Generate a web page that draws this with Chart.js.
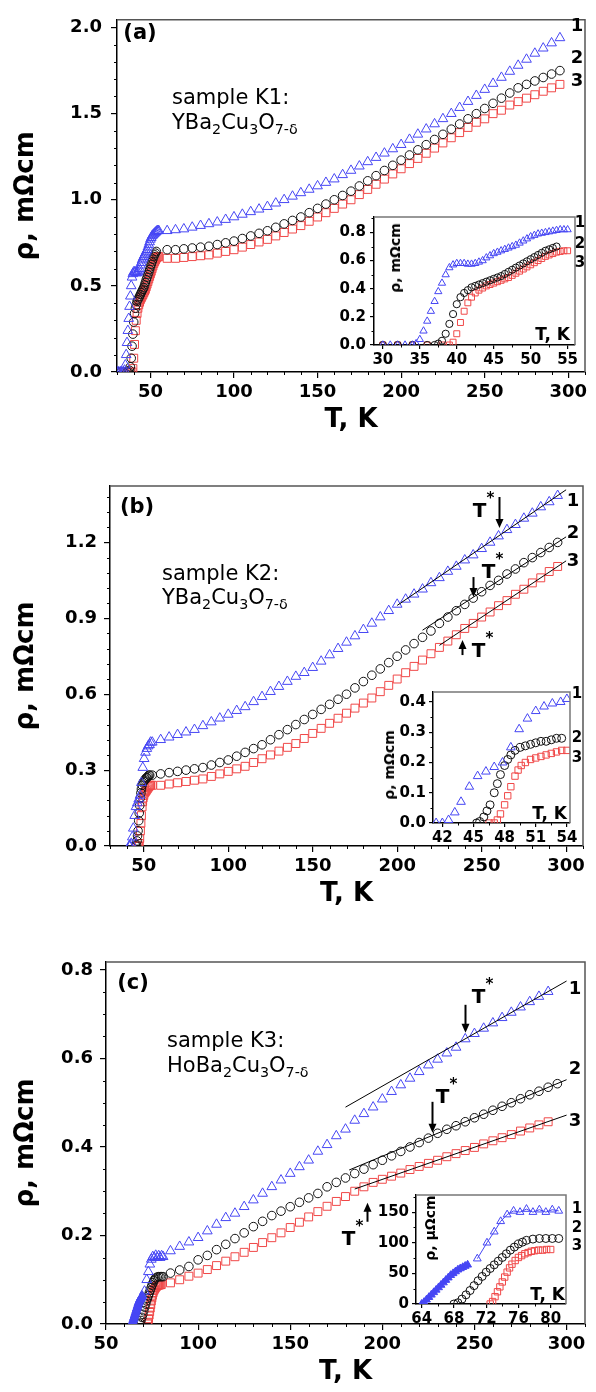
<!DOCTYPE html>
<html>
<head>
<meta charset="utf-8">
<title>Resistivity vs temperature, samples K1-K3</title>
<script src="https://cdn.jsdelivr.net/npm/chart.js@4.4.0/dist/chart.umd.min.js"></script>
<style>
  html, body { margin: 0; padding: 0; background: #fff; }
  #stage { position: relative; width: 596px; height: 1392px; overflow: hidden;
           font-family: "DejaVu Sans", "Liberation Sans", sans-serif; color: #000; }
  #stage canvas { position: absolute; z-index: 1; }
  .t { position: absolute; white-space: nowrap; line-height: 1; z-index: 5; }
  .c { transform: translate(-50%, -50%); }
  .l { transform: translateY(-50%); }
  .r { transform: translate(-100%, -50%); }
  .v { transform: translate(-50%, -50%) rotate(-90deg); }
  .b { font-weight: bold; }
  .n { font-size: 18px; font-weight: bold; }
  .m { font-size: 15px; font-weight: bold; }
  .s { font-size: 21px; }
  .sub { font-size: 68%; position: relative; top: 0.38em; }
</style>
</head>
<body>
<div id="stage">
  <!-- (a) -->
  <div class="t c b" style="left:140px;top:32px;font-size:21px">(a)</div>
  <div class="t l s" style="left:172px;top:97px">sample K1:</div>
  <div class="t l s" style="left:172px;top:122px">YBa<span class="sub">2</span>Cu<span class="sub">3</span>O<span class="sub">7-δ</span></div>
  <div class="t c n" style="left:577px;top:25px">1</div>
  <div class="t c n" style="left:577px;top:57px">2</div>
  <div class="t c n" style="left:577px;top:80px">3</div>
  <div class="t v b" style="left:395px;top:258px;font-size:14px">ρ, mΩcm</div>
  <div class="t r b" style="left:570px;top:334px;font-size:17px">T, K</div>
  <div class="t c m" style="left:580px;top:222px">1</div>
  <div class="t c m" style="left:580px;top:243px">2</div>
  <div class="t c m" style="left:580px;top:262px">3</div>

  <!-- (b) -->
  <div class="t c b" style="left:137px;top:506px;font-size:21px">(b)</div>
  <div class="t l s" style="left:162px;top:573px">sample K2:</div>
  <div class="t l s" style="left:162px;top:597px">YBa<span class="sub">2</span>Cu<span class="sub">3</span>O<span class="sub">7-δ</span></div>
  <div class="t c n" style="left:573px;top:500px">1</div>
  <div class="t c n" style="left:573px;top:532px">2</div>
  <div class="t c n" style="left:573px;top:560px">3</div>
  <div class="t v b" style="left:389px;top:765px;font-size:14px">ρ, mΩcm</div>
  <div class="t r b" style="left:567px;top:813px;font-size:17px">T, K</div>
  <div class="t c m" style="left:577px;top:693px">1</div>
  <div class="t c m" style="left:577px;top:737px">2</div>
  <div class="t c m" style="left:577px;top:757px">3</div>

  <!-- (c) -->
  <div class="t c b" style="left:133px;top:982px;font-size:21px">(c)</div>
  <div class="t l s" style="left:167px;top:1040px">sample K3:</div>
  <div class="t l s" style="left:167px;top:1065px">HoBa<span class="sub">2</span>Cu<span class="sub">3</span>O<span class="sub">7-δ</span></div>
  <div class="t c n" style="left:575px;top:988px">1</div>
  <div class="t c n" style="left:575px;top:1068px">2</div>
  <div class="t c n" style="left:575px;top:1120px">3</div>
  <div class="t v b" style="left:430px;top:1228px;font-size:14px">ρ, μΩcm</div>
  <div class="t r b" style="left:565px;top:1294px;font-size:17px">T, K</div>
  <div class="t c m" style="left:577px;top:1208px">1</div>
  <div class="t c m" style="left:577px;top:1227px">2</div>
  <div class="t c m" style="left:577px;top:1245px">3</div>
</div>

<script>
// ---------- sample K1 (a) ----------
const tA = [60,65,70,75,80,85,90,95,100,105,110,115,120,125,130,135,140,145,150,155,160,165,170,175,
            180,185,190,195,200,205,210,215,220,225,230,235,240,245,250,255,260,265,270,275,280,285,290,295];
const rhoA1 = [.82,.825,.83,.84,.85,.86,.87,.885,.90,.915,.93,.945,.96,.98,1.00,1.02,1.04,1.06,1.08,1.10,1.12,1.145,1.17,1.195,
               1.22,1.245,1.27,1.295,1.32,1.35,1.38,1.41,1.44,1.47,1.50,1.535,1.57,1.605,1.64,1.675,1.71,1.745,1.78,1.815,1.85,1.88,1.91,1.94];
const rhoA2 = [.71,.71,.715,.72,.725,.73,.74,.75,.76,.775,.79,.805,.82,.84,.86,.88,.90,.925,.95,.975,1.00,1.025,1.05,1.08,
               1.11,1.14,1.17,1.20,1.23,1.26,1.29,1.32,1.35,1.38,1.41,1.44,1.47,1.50,1.53,1.56,1.59,1.62,1.65,1.67,1.69,1.71,1.73,1.75];
const rhoA3 = [.66,.66,.665,.67,.675,.68,.69,.70,.71,.725,.74,.755,.77,.79,.81,.83,.85,.875,.90,.925,.95,.975,1.00,1.03,
               1.06,1.09,1.12,1.15,1.18,1.21,1.24,1.27,1.30,1.33,1.36,1.39,1.42,1.45,1.47,1.50,1.52,1.55,1.57,1.59,1.61,1.63,1.65,1.67];
// transition region (inset a), mOhm cm
const tInA1 = [30,31,32,33,34,34.5,35,35.5,36,36.5,37,37.5,38,38.5,39,39.5,40,40.5,41,41.5,42,42.5,43,43.5,44,44.5,
               45,45.5,46,46.5,47,47.5,48,48.5,49,49.5,50,50.5,51,51.5,52,52.5,53,53.5,54,54.5,55];
const rhoInA1 = [0,0,0,0,0,.01,.04,.1,.17,.24,.31,.38,.44,.5,.55,.57,.58,.58,.58,.575,.575,.58,.59,.6,.62,.635,
                 .65,.66,.67,.68,.69,.70,.71,.725,.74,.755,.77,.78,.79,.795,.80,.805,.81,.815,.82,.82,.82];
const tInA2 = [30,32,34,36,37,37.5,38,38.5,39,39.5,40,40.5,41,41.5,42,42.5,43,43.5,44,44.5,45,45.5,46,46.5,47,47.5,
               48,48.5,49,49.5,50,50.5,51,51.5,52,52.5,53,53.5];
const rhoInA2 = [0,0,0,0,0,.01,.03,.08,.15,.22,.29,.34,.37,.39,.41,.42,.43,.44,.45,.46,.47,.48,.49,.505,.52,.535,
                 .55,.565,.58,.595,.61,.625,.64,.655,.67,.68,.69,.70];
const tInA3 = [30,32,34,36,38,39,39.5,40,40.5,41,41.5,42,42.5,43,43.5,44,44.5,45,45.5,46,46.5,47,47.5,48,48.5,49,
               49.5,50,50.5,51,51.5,52,52.5,53,53.5,54,54.5,55];
const rhoInA3 = [0,0,0,0,0,0,.02,.08,.16,.24,.3,.34,.37,.39,.405,.42,.43,.44,.45,.46,.47,.48,.495,.51,.525,.54,
                 .555,.57,.585,.6,.615,.63,.64,.65,.66,.665,.67,.67];

// ---------- sample K2 (b) ----------
const tB = [55,60,65,70,75,80,85,90,95,100,105,110,115,120,125,130,135,140,145,150,155,160,165,170,175,
            180,185,190,195,200,205,210,215,220,225,230,235,240,245,250,255,260,265,270,275,280,285,290,295];
const rhoB1 = [.41,.42,.43,.44,.45,.46,.475,.49,.505,.52,.535,.55,.57,.59,.61,.63,.65,.67,.685,.705,.73,.755,.78,.805,.83,
               .855,.88,.905,.93,.955,.975,.995,1.015,1.04,1.06,1.085,1.105,1.13,1.15,1.175,1.20,1.225,1.25,1.27,1.295,1.315,1.34,1.36,1.385];
const rhoB2 = [.28,.285,.29,.295,.30,.305,.31,.32,.33,.34,.355,.37,.385,.40,.42,.44,.46,.48,.50,.52,.54,.56,.58,.60,.625,
               .65,.675,.70,.725,.75,.775,.80,.825,.85,.88,.905,.93,.955,.98,1.005,1.03,1.05,1.075,1.095,1.12,1.14,1.16,1.18,1.20];
const rhoB3 = [.24,.24,.245,.25,.255,.26,.265,.275,.285,.295,.305,.315,.33,.345,.36,.375,.39,.405,.425,.445,.465,.485,.505,.525,.545,
               .565,.585,.61,.635,.66,.685,.71,.735,.76,.785,.81,.835,.86,.88,.905,.925,.95,.97,.995,1.015,1.04,1.06,1.085,1.105];
const tInB1 = [41.4,42,42.6,43.2,43.8,44.6,45.4,46.2,47,47.8,48.6,49.4,50.2,51,51.8,52.6,53.4,54];
const rhoInB1 = [0,0,.01,.035,.07,.12,.155,.17,.185,.20,.25,.31,.345,.37,.385,.395,.40,.41];
const tInB2 = [45.3,45.6,46,46.3,46.6,47,47.3,47.6,48,48.3,48.6,49,49.5,50,50.5,51,51.5,52,52.5,53,53.5];
const rhoInB2 = [0,.005,.02,.04,.06,.1,.13,.16,.19,.21,.225,.24,.25,.255,.26,.265,.27,.27,.275,.28,.28];
const tInB3 = [46.5,47,47.3,47.6,48,48.3,48.6,49,49.3,49.6,50,50.5,51,51.5,52,52.5,53,53.5,54];
const rhoInB3 = [0,0,.01,.03,.06,.09,.12,.155,.175,.19,.2,.21,.215,.22,.225,.23,.235,.24,.24];
// linear high-temperature fits and T* marks
const fitB1 = [[200, 0.951], [300, 1.408]];
const fitB2 = [[215, 0.853], [300, 1.222]];
const fitB3 = [[225, 0.793], [300, 1.127]];
const tStarB = [260, 245, 238.4];
const tStarRhoB = [1.257, 0.984, 0.814];

// ---------- sample K3 (c) ----------
const tC = [85,90,95,100,105,110,115,120,125,130,135,140,145,150,155,160,165,170,175,180,185,
            190,195,200,205,210,215,220,225,230,235,240,245,250,255,260,265,270,275,280,285,290,295];
const rhoC1 = [.165,.175,.185,.195,.21,.225,.24,.25,.265,.28,.295,.31,.325,.34,.355,.37,.39,.405,.425,.44,.46,
               .475,.49,.508,.525,.54,.555,.57,.585,.598,.612,.625,.644,.656,.668,.68,.692,.704,.716,.728,.74,.751];
const rhoC2 = [.115,.122,.13,.145,.155,.168,.18,.193,.206,.22,.232,.245,.255,.265,.275,.285,.295,.31,.32,.33,.34,
               .35,.36,.37,.38,.39,.40,.41,.42,.431,.44,.448,.457,.466,.474,.483,.492,.50,.509,.518,.526,.535,.543];
const rhoC3 = [.093,.10,.108,.115,.123,.132,.142,.152,.162,.173,.184,.195,.206,.218,.23,.242,.254,.266,.277,.288,.30,
               .31,.32,.327,.334,.341,.349,.356,.363,.37,.378,.385,.392,.399,.407,.414,.421,.428,.436,.443,.45,.457];
// transition region (inset c), microOhm cm; filled symbols below ~70 K
const tInC1f = [64,64.3,64.6,64.9,65.2,65.5,65.8,66.1,66.4,66.7,67,67.3,67.6,67.9,68.2,68.5,68.8,69.1,69.4,69.7];
const rhoInC1f = [0,3,7,11,15,19,23,27,31,35,39,43,47,50,53,56,58,60,62,64];
const tInC1 = [70.9,72.1,73,73.8,74.6,75.4,76.2,77,77.8,78.6,79.4,80.2,81];
const rhoInC1 = [74,100,118,135,146,152,150,155,150,154,150,154,152];
const tInC2 = [68,68.5,69,69.5,70,70.5,71,71.5,72,72.5,73,73.5,74,74.5,75,75.5,76,76.5,77,77.8,78.6,79.4,80.2,81];
const rhoInC2 = [0,2,8,15,22,30,38,45,52,58,64,70,76,82,88,93,98,101,104,106,107,107,107,107];
const tInC3 = [72.5,72.8,73.1,73.4,73.7,74,74.3,74.6,74.9,75.2,75.6,76,76.4,76.8,77.2,77.6,78,78.5,79,79.5,80];
const rhoInC3 = [0,4,12,20,28,36,44,52,59,65,71,76,79,82,84,86,87,88,88,89,89];
const fitC1 = [[180, 0.49], [300, 0.775]];
const fitC2 = [[182, 0.348], [300, 0.552]];
const fitC3 = [[185, 0.305], [300, 0.472]];
const tStarC = [245, 227, 191.7];
const tStarRhoC = [0.658, 0.432, 0.274];

// ---------- drawing ----------
const stage = document.getElementById('stage');
const FONT = '"DejaVu Sans", "Liberation Sans", sans-serif';
const BLUE = '#4646f4', RED = '#f04848', BLACK = '#111111';
const NONE = 'rgba(0,0,0,0)';

function pts(t, r, k) {
  return r.map((v, i) => ({x: t[i], y: v * (k || 1)}));
}
function pairs(p) {
  return p.map(q => ({x: q[0], y: q[1]}));
}

function marks(data, color, style, r, fill) {
  return {
    data, showLine: false,
    pointStyle: style, pointRadius: r, pointHoverRadius: r,
    pointBorderColor: color, pointBackgroundColor: fill || NONE, pointBorderWidth: 1,
    borderColor: color, backgroundColor: fill || NONE
  };
}
function fitLine(p) {
  return {data: pairs(p), showLine: true, pointRadius: 0, borderColor: '#000', borderWidth: 1, order: -1};
}

// plot frame (top/right edges) and optional white plot background for insets
const framePlugin = {
  id: 'frame',
  beforeDraw(chart, args, o) {
    if (!o.fill) return;
    const a = chart.chartArea, ctx = chart.ctx;
    ctx.save();
    ctx.fillStyle = o.fill;
    ctx.fillRect(a.left, a.top, a.right - a.left, a.bottom - a.top);
    ctx.restore();
  },
  afterDraw(chart, args, o) {
    const a = chart.chartArea, ctx = chart.ctx;
    ctx.save();
    ctx.strokeStyle = o.color || '#555';
    ctx.lineWidth = o.width || 1.5;
    ctx.beginPath();
    ctx.moveTo(a.left, a.top);
    ctx.lineTo(a.right, a.top);
    ctx.lineTo(a.right, a.bottom);
    ctx.stroke();
    ctx.restore();
  }
};

// short unlabeled ticks between the major ones
const minorPlugin = {
  id: 'minorTicks',
  afterDraw(chart, args, o) {
    const ctx = chart.ctx;
    ctx.save();
    ctx.strokeStyle = '#000';
    ctx.lineWidth = 1;
    ['x', 'y'].forEach(k => {
      const sc = chart.scales[k], step = o[k];
      if (!step) return;
      const major = sc.options.ticks.stepSize;
      for (let i = Math.ceil(sc.min / step - 1e-9); i * step <= sc.max + 1e-9; i++) {
        const v = i * step, q = v / major;
        if (Math.abs(q - Math.round(q)) < 1e-6) continue;
        const p = Math.round(sc.getPixelForValue(v)) + 0.5;
        ctx.beginPath();
        if (k === 'x') { ctx.moveTo(p, sc.top); ctx.lineTo(p, sc.top + o.len); }
        else { ctx.moveTo(sc.right, p); ctx.lineTo(sc.right - o.len, p); }
        ctx.stroke();
      }
    });
    ctx.restore();
  }
};

// T* arrows with labels
const tStarPlugin = {
  id: 'tStar',
  afterDatasetsDraw(chart, args, o) {
    if (!o.items) return;
    const ctx = chart.ctx, xs = chart.scales.x, ys = chart.scales.y;
    ctx.save();
    ctx.fillStyle = '#000';
    ctx.strokeStyle = '#000';
    ctx.lineWidth = 2;
    o.items.forEach(a => {
      const x = Math.round(xs.getPixelForValue(a.T)) + 0.5;
      const tip = ys.getPixelForValue(a.rho);
      const d = a.up ? -1 : 1;
      const tail = tip - d * a.len;
      ctx.beginPath();
      ctx.moveTo(x, tail);
      ctx.lineTo(x, tip - d * 7);
      ctx.stroke();
      ctx.beginPath();
      ctx.moveTo(x, tip);
      ctx.lineTo(x - 4, tip - d * 9);
      ctx.lineTo(x + 4, tip - d * 9);
      ctx.closePath();
      ctx.fill();
      const lx = x + a.dx, ly = tail + a.dy;
      ctx.textAlign = 'center';
      ctx.textBaseline = 'middle';
      ctx.font = 'bold 20px ' + FONT;
      ctx.fillText('T', lx, ly);
      ctx.font = 'bold 15px ' + FONT;
      ctx.fillText('*', lx + 11, ly - 13);
    });
    ctx.restore();
  }
};

function axis(a, fit) {
  return {
    type: 'linear', min: a.min, max: a.max,
    ticks: {
      stepSize: a.step, includeBounds: false, autoSkip: false, maxRotation: 0, minRotation: 0,
      color: '#000', padding: a.pad, font: {family: FONT, size: a.size, weight: 'bold'},
      callback: v => (a.dec == null ? String(v) : v.toFixed(a.dec))
    },
    grid: {drawOnChartArea: false, drawTicks: true, tickLength: a.tick, color: '#000', lineWidth: 1.2},
    border: {display: true, color: '#000', width: 1.5},
    title: a.title
      ? {display: true, text: a.title, color: '#000', font: {family: FONT, size: 26, weight: 'bold'}, padding: a.tpad}
      : {display: false},
    afterFit: fit
  };
}

function makeChart(box, xa, ya, datasets, opts) {
  const cv = document.createElement('canvas');
  const left = box.l - box.yw, top = box.t - box.pt;
  const w = box.r + box.pr - left, h = box.b + box.xh - top;
  cv.width = w;
  cv.height = h;
  cv.style.left = left + 'px';
  cv.style.top = top + 'px';
  cv.style.width = w + 'px';
  cv.style.height = h + 'px';
  stage.appendChild(cv);
  return new Chart(cv, {
    type: 'scatter',
    data: {datasets},
    options: {
      responsive: false, animation: false, devicePixelRatio: 1,
      layout: {padding: {left: 0, top: box.pt, right: box.pr, bottom: 0}},
      plugins: {
        legend: {display: false}, tooltip: {enabled: false},
        frame: opts.frame, minorTicks: opts.minor, tStar: opts.tStar || {}
      },
      scales: {
        x: axis(xa, s => { s.height = box.xh; }),
        y: axis(ya, s => { s.width = box.yw; })
      }
    },
    plugins: [framePlugin, minorPlugin, tStarPlugin]
  });
}

const mainX = (min, max) => ({min, max, step: 50, size: 18, pad: 4, tick: 6, title: 'T, K', tpad: {top: 0, bottom: 0}});
const mainY = (max, step, pad) => ({min: 0, max, step, size: 18, pad, tick: 6, dec: 1,
                                     title: 'ρ, mΩcm', tpad: {top: 11, bottom: 0}});
const mainFrame = {color: '#555', width: 1.5};
const insetFrame = {color: '#777', width: 1.5, fill: '#fff'};

function arrows(T, rho, len, up, dx, dy) {
  return T.map((t, i) => ({T: t, rho: rho[i], len: len[i], up: up[i], dx: dx[i], dy: dy[i]}));
}

// (a) main
makeChart({l: 117, r: 585, t: 12, b: 372, yw: 117, pt: 12, pr: 11, xh: 64},
  mainX(30, 310), mainY(2.045, 0.5, 9),
  [
    marks(pts(tInA1, rhoInA1).concat(pts(tA, rhoA1)), BLUE, 'triangle', 5.6),
    marks(pts(tInA2, rhoInA2).concat(pts(tA, rhoA2)), BLACK, 'circle', 4.3),
    marks(pts(tInA3, rhoInA3).concat(pts(tA, rhoA3)), RED, 'rect', 5.6)
  ],
  {frame: mainFrame, minor: {x: 10, y: 0.1, len: 3}});

// (a) inset
makeChart({l: 374, r: 575, t: 214, b: 345, yw: 50, pt: 10, pr: 14, xh: 24},
  {min: 28.8, max: 56, step: 5, size: 15, pad: 2, tick: 4},
  {min: 0, max: 0.91, step: 0.2, size: 15, pad: 4, tick: 4, dec: 1},
  [
    marks(pts(tInA1, rhoInA1), BLUE, 'triangle', 4.2),
    marks(pts(tInA2, rhoInA2), BLACK, 'circle', 3.6),
    marks(pts(tInA3, rhoInA3), RED, 'rect', 4.2)
  ],
  {frame: insetFrame, minor: {x: 2.5, y: 0.1, len: 2.5}});

// (b) main
makeChart({l: 110, r: 583, t: 486, b: 846, yw: 110, pt: 20, pr: 13, xh: 64},
  mainX(30, 310), mainY(1.423, 0.3, 7),
  [
    fitLine(fitB1), fitLine(fitB2), fitLine(fitB3),
    marks(pts(tInB1, rhoInB1).concat(pts(tB, rhoB1)), BLUE, 'triangle', 5.6),
    marks(pts(tInB2, rhoInB2).concat(pts(tB, rhoB2)), BLACK, 'circle', 4.3),
    marks(pts(tInB3, rhoInB3).concat(pts(tB, rhoB3)), RED, 'rect', 5.6)
  ],
  {frame: mainFrame, minor: {x: 10, y: 0.06, len: 3},
   tStar: {items: arrows(tStarB, tStarRhoB, [31, 20, 15], [false, false, true], [-20, 15, 16], [15, -4, -3])}});

// (b) inset
makeChart({l: 433, r: 570, t: 690, b: 823, yw: 40, pt: 10, pr: 14, xh: 24},
  {min: 41.1, max: 54.3, step: 3, size: 15, pad: 2, tick: 4},
  {min: 0, max: 0.433, step: 0.1, size: 15, pad: 3, tick: 4, dec: 1},
  [
    marks(pts(tInB1, rhoInB1), BLUE, 'triangle', 5),
    marks(pts(tInB2, rhoInB2), BLACK, 'circle', 4),
    marks(pts(tInB3, rhoInB3), RED, 'rect', 4.5)
  ],
  {frame: insetFrame, minor: {x: 1.5, y: 0.05, len: 2.5}});

// (c) main
makeChart({l: 106, r: 585, t: 962, b: 1324, yw: 106, pt: 20, pr: 11, xh: 64},
  mainX(50, 310), mainY(0.818, 0.2, 7),
  [
    fitLine(fitC1), fitLine(fitC2), fitLine(fitC3),
    marks(pts(tInC1f, rhoInC1f, 0.001), BLUE, 'triangle', 5, BLUE),
    marks(pts(tInC1, rhoInC1, 0.001).concat(pts(tC, rhoC1)), BLUE, 'triangle', 5.6),
    marks(pts(tInC2, rhoInC2, 0.001).concat(pts(tC, rhoC2)), BLACK, 'circle', 4.3),
    marks(pts(tInC3, rhoInC3, 0.001).concat(pts(tC, rhoC3)), RED, 'rect', 5.6)
  ],
  {frame: mainFrame, minor: {x: 10, y: 0.05, len: 3},
   tStar: {items: arrows(tStarC, tStarRhoC, [28, 31, 19], [false, false, true], [13, 10, -19], [-7, -4, 18])}});

// (c) inset
const insetC1 = marks(pts(tInC1, rhoInC1), BLUE, 'triangle', 4.5);
insetC1.showLine = true;
insetC1.borderWidth = 1;
makeChart({l: 416, r: 566, t: 1193, b: 1304, yw: 44, pt: 10, pr: 14, xh: 24},
  {min: 63.3, max: 81.9, step: 4, size: 15, pad: 2, tick: 4},
  {min: 0, max: 178, step: 50, size: 15, pad: 3, tick: 4, dec: 0},
  [
    marks(pts(tInC1f, rhoInC1f), BLUE, 'triangle', 4.5, BLUE),
    insetC1,
    marks(pts(tInC2, rhoInC2), BLACK, 'circle', 4),
    marks(pts(tInC3, rhoInC3), RED, 'rect', 4.5)
  ],
  {frame: insetFrame, minor: {x: 2, y: 25, len: 2.5}});
</script>
</body>
</html>
